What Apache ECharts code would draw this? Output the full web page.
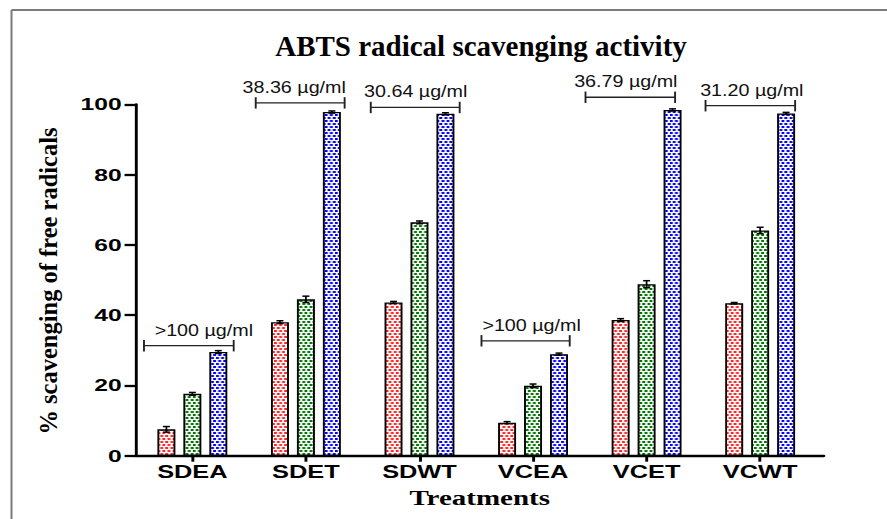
<!DOCTYPE html>
<html>
<head>
<meta charset="utf-8">
<script src="https://cdn.jsdelivr.net/npm/echarts@6/dist/echarts.min.js"></script>
<style>
  html, body { margin: 0; padding: 0; background: #fff; overflow: hidden; }
  #wrap { position: relative; width: 887px; height: 519px; overflow: hidden; background: #fff; }
  #plot { position: absolute; left: 0; top: 0; height: 519px; transform-origin: 0 0; }
  #frame { position: absolute; left: 0; top: 0; width: 887px; height: 519px; pointer-events: none; }
</style>
</head>
<body>
<div id="wrap">
  <div id="plot"></div>
  <div id="frame"></div>
</div>
<script>
// ---- data ----
const categories = ['SDEA', 'SDET', 'SDWT', 'VCEA', 'VCET', 'VCWT'];
const seriesNames = ['Concentration 1', 'Concentration 2', 'Concentration 3'];
const conc1 = [7.5, 38.0, 43.6, 9.4, 38.6, 43.4];
const conc2 = [17.6, 44.5, 66.4, 19.9, 48.8, 64.1];
const conc3 = [29.5, 97.8, 97.3, 28.9, 98.4, 97.4];
const conc1Err = [0.8, 0.4, 0.3, 0.3, 0.4, 0.2];
const conc2Err = [0.4, 0.9, 0.4, 0.5, 1.0, 0.9];
const conc3Err = [0.4, 0.3, 0.3, 0.3, 0.3, 0.3];
const yTicks = [0, 20, 40, 60, 80, 100];

// IC50 brackets: label, level (% scale) and span along the treatment axis
const bracketLabels = ['>100 \u00b5g/ml', '38.36 \u00b5g/ml', '30.64 \u00b5g/ml', '>100 \u00b5g/ml', '36.79 \u00b5g/ml', '31.20 \u00b5g/ml'];
const bracketLevels = [31.3, 100.4, 99.1, 32.7, 102.0, 99.6];
const bracketFrom = [-0.426, 0.558, 1.571, 2.546, 3.462, 4.519];
const bracketTo = [0.364, 1.341, 2.354, 3.323, 4.251, 5.308];

// ---- layout ----
const SX = 1.45;                 // horizontal stretch of the plot layer
const plotW = 887 / SX;
const BAR_W = 12.4;              // bar width (plot-layer units)
const BAR_GAP = 5.5;             // space between bars in a group
const labelShiftPx = [15, -6, 0.5, 6, -4.5, 1.5];   // bracket label nudges (screen px)
const SERIF = '"Liberation Serif", "Times New Roman", serif';
const SANS = '"Liberation Sans", Arial, sans-serif';

const plotDom = document.getElementById('plot');
plotDom.style.width = plotW + 'px';
plotDom.style.transform = 'scaleX(' + SX + ')';

// white background with staggered coloured dashes
function dashFill(color) {
  const c = document.createElement('canvas');
  c.width = 14; c.height = 12;
  const g = c.getContext('2d');
  g.fillStyle = '#fff';
  g.fillRect(0, 0, 14, 12);
  g.fillStyle = color;
  g.fillRect(0, 0, 4, 4);
  g.fillRect(7, 0, 4, 4);
  g.fillRect(4, 6, 4, 4);
  g.fillRect(11, 6, 3, 4);
  g.fillRect(0, 6, 1, 4);
  return { image: c, repeat: 'repeat', imageWidth: 7, imageHeight: 6 };
}

const colors = ['#ff2424', '#007400', '#0000ff'];
const values = [conc1, conc2, conc3];
const errors = [conc1Err, conc2Err, conc3Err];
const step = BAR_W + BAR_GAP;

const barSeries = values.map((vals, i) => ({
  type: 'bar',
  name: seriesNames[i],
  data: vals.map((v, k) => [k, v]),
  barWidth: BAR_W,
  barGap: (BAR_GAP / BAR_W * 100) + '%',
  itemStyle: { color: dashFill(colors[i]), borderColor: '#000', borderWidth: 1.3 },
  z: 2,
  silent: true
}));

const errorSeries = values.map((vals, i) => ({
  type: 'custom',
  name: seriesNames[i] + ' SEM',
  data: vals.map((v, k) => [k, v, errors[i][k]]),
  encode: { x: 0, y: 1 },
  z: 4,
  silent: true,
  renderItem: function (params, api) {
    const x = api.value(0), m = api.value(1), e = api.value(2);
    const hi = api.coord([x, m + e]);
    const lo = api.coord([x, m - e]);
    const cx = hi[0] + (i - 1) * step;
    const cap = 2.4;
    const st = { stroke: '#000', lineWidth: 1.5 };
    return {
      type: 'group',
      children: [
        { type: 'line', shape: { x1: cx, y1: hi[1], x2: cx, y2: lo[1] }, style: { stroke: '#000', lineWidth: 1.2 } },
        { type: 'line', shape: { x1: cx - cap, y1: hi[1], x2: cx + cap, y2: hi[1] }, style: st },
        { type: 'line', shape: { x1: cx - cap, y1: lo[1], x2: cx + cap, y2: lo[1] }, style: st }
      ]
    };
  }
}));

const bracketSeries = {
  type: 'custom',
  name: 'IC50',
  data: bracketLevels.map((lv, k) => [bracketFrom[k], lv, bracketTo[k]]),
  encode: { x: [0, 2], y: 1 },
  z: 5,
  silent: true,
  renderItem: function (params, api) {
    const a = api.coord([api.value(0), api.value(1)]);
    const b = api.coord([api.value(2), api.value(1)]);
    const h = 5.7;
    const st = { stroke: '#222', lineWidth: 1.3 };
    return {
      type: 'group',
      children: [
        { type: 'line', shape: { x1: a[0], y1: a[1], x2: b[0], y2: b[1] }, style: st },
        { type: 'line', shape: { x1: a[0], y1: a[1] - h, x2: a[0], y2: a[1] + h }, style: st },
        { type: 'line', shape: { x1: b[0], y1: b[1] - h, x2: b[0], y2: b[1] + h }, style: st },
        {
          type: 'text',
          x: (a[0] + b[0]) / 2 + labelShiftPx[params.dataIndex] / SX,
          y: a[1] - 15.5,
          scaleX: 0.85,
          style: {
            text: bracketLabels[params.dataIndex],
            fill: '#111',
            fontSize: 16,
            fontFamily: SANS,
            align: 'center',
            verticalAlign: 'middle'
          }
        }
      ]
    };
  }
};

const chart = echarts.init(plotDom, null, { renderer: 'svg', width: plotW, height: 519 });
chart.setOption({
  animation: false,
  backgroundColor: '#fff',
  grid: { left: 93.5, width: 474.6, top: 104.3, height: 351.4, outerBoundsMode: 'none', containLabel: false },
  xAxis: {
    type: 'value',
    min: -0.5,
    max: 5.56,
    splitLine: { show: false },
    axisLine: { show: true, onZero: false, lineStyle: { color: '#000', width: 2.3 } },
    axisTick: { show: true, customValues: [0, 1, 2, 3, 4, 5], length: 6, lineStyle: { color: '#000', width: 2 } },
    axisLabel: {
      customValues: [0, 1, 2, 3, 4, 5],
      formatter: v => categories[Math.round(v)],
      margin: 7,
      color: '#000',
      fontFamily: SANS,
      fontWeight: 'bold',
      fontSize: 17.5
    },
    name: 'Treatments',
    nameLocation: 'middle',
    nameGap: 32,
    nameTextStyle: { color: '#000', fontFamily: SERIF, fontWeight: 'bold', fontSize: 20 }
  },
  yAxis: {
    type: 'value',
    min: 0,
    max: 100,
    interval: 20,
    splitLine: { show: false },
    axisLine: { show: true, onZero: false, lineStyle: { color: '#000', width: 2 } },
    axisTick: { show: true, length: 7.6, lineStyle: { color: '#000', width: 2.3 } },
    axisLabel: {
      margin: 9.6,
      color: '#000',
      fontFamily: SANS,
      fontWeight: 'bold',
      fontSize: 17,
      formatter: v => (yTicks.indexOf(v) >= 0 ? String(v) : '')
    }
  },
  series: barSeries.concat(errorSeries, [bracketSeries])
});

// title, vertical axis title and figure frame (unstretched layer)
const frame = echarts.init(document.getElementById('frame'), null, { renderer: 'svg', width: 887, height: 519 });
frame.setOption({
  animation: false,
  backgroundColor: 'transparent',
  title: {
    text: 'ABTS radical scavenging activity',
    left: 481,
    top: 46,
    padding: 0,
    textAlign: 'center',
    textVerticalAlign: 'middle',
    textStyle: { color: '#000', fontFamily: SERIF, fontWeight: 'bold', fontSize: 29 }
  },
  graphic: [
    {
      type: 'text',
      x: 48,
      y: 281,
      rotation: Math.PI / 2,
      style: {
        text: '% scavenging of free radicals',
        fill: '#000',
        fontFamily: SERIF,
        fontWeight: 'bold',
        fontSize: 24.5,
        align: 'center',
        verticalAlign: 'middle'
      }
    },
    { type: 'line', shape: { x1: 11.5, y1: 10, x2: 887, y2: 10 }, style: { stroke: '#7a7a7a', lineWidth: 2 } },
    { type: 'line', shape: { x1: 11.5, y1: 10, x2: 11.5, y2: 519 }, style: { stroke: '#7a7a7a', lineWidth: 2 } }
  ]
});
</script>
</body>
</html>
